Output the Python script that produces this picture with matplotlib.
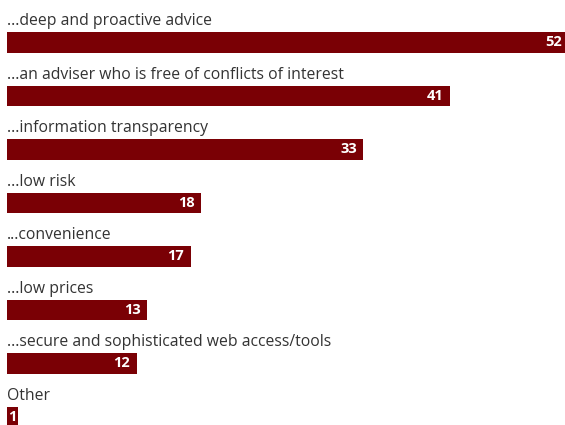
import matplotlib
matplotlib.use('Agg')
import matplotlib.pyplot as plt

labels = [
    "...deep and proactive advice",
    "...an adviser who is free of conflicts of interest",
    "...information transparency",
    "...low risk",
    "...convenience",
    "...low prices",
    "...secure and sophisticated web access/tools",
    "Other",
]
values = [52, 41, 33, 18, 17, 13, 12, 1]

BAR_COLOR = '#7a0005'
TEXT_COLOR = '#333333'

plt.rcParams['font.family'] = ['Open Sans', 'DejaVu Sans']

fig = plt.figure(figsize=(5.65, 4.25), dpi=100)
ax = fig.add_axes([7 / 565, 0, 1 - 7 / 565, 1])

rows = list(range(len(values)))
bar_h = 0.39
ax.barh(rows, values, height=bar_h, color=BAR_COLOR, left=0)

# category label sits just above each bar, value inside its right end
for i, (lab, v) in enumerate(zip(labels, values)):
    ax.annotate(lab, xy=(0, i - bar_h / 2), xytext=(0, 5),
                textcoords='offset points', ha='left', va='baseline',
                fontsize=11.3, color=TEXT_COLOR)
    if v < 3:
        ax.annotate(f'{v}', xy=(v / 2, i), ha='center', va='center',
                    fontsize=10.5, fontweight='bold', color='white',
                    annotation_clip=False)
    else:
        ax.annotate(f'{v}', xy=(v, i), xytext=(-4.5, 0),
                    textcoords='offset points', ha='right', va='center',
                    fontsize=10.5, fontweight='bold', color='white',
                    annotation_clip=False)

ax.set_xlim(0, 558 / 10.8)
ax.set_ylim(7.15, -0.794)
ax.axis('off')

fig.savefig('out.png', dpi=100)
